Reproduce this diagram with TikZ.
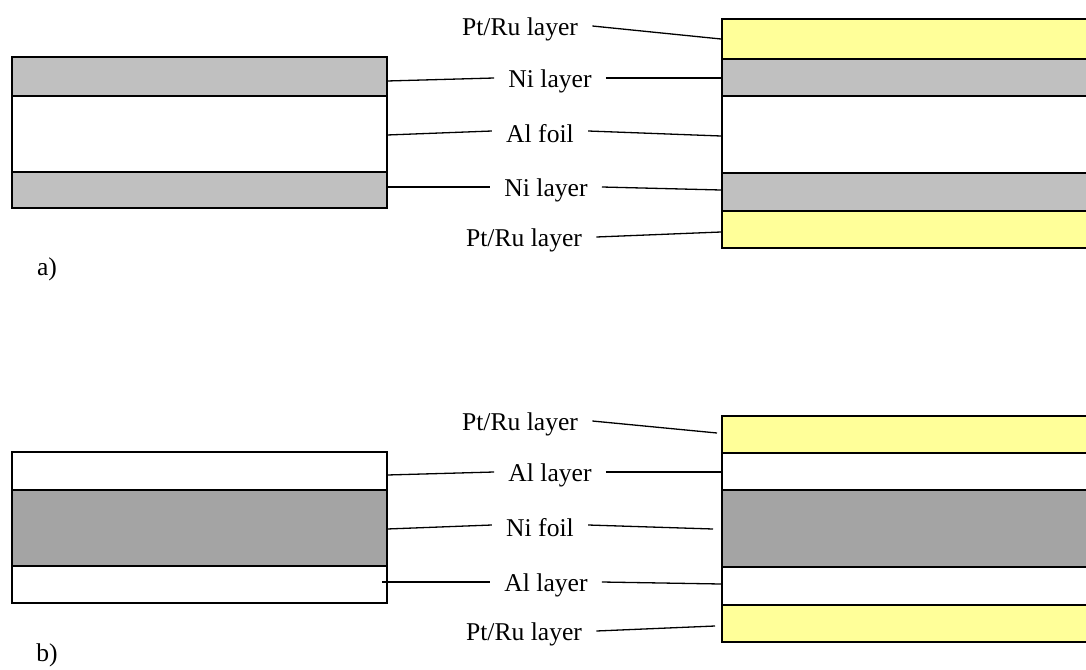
\documentclass[tikz,border=0pt]{standalone}
\usepackage{fontspec}
\setmainfont{Liberation Serif}
\definecolor{nigray}{HTML}{C0C0C0}
\definecolor{foilgray}{HTML}{A4A4A4}
\definecolor{ptyellow}{HTML}{FFFF99}
\tikzset{
  layerbox/.style={draw=black, line width=0.8pt},
  lbl/.style={font=\fontsize{12.8}{15}\selectfont, inner xsep=7pt, inner ysep=0pt},
  lead/.style={draw=black, line width=0.65pt},
  % lead lines leave a label a little above its box centre
  up/.style={yshift=1.5pt},
}
\begin{document}
\begin{tikzpicture}[x=0.5pt,y=-0.5pt]
\useasboundingbox (0,0) rectangle (1086,669);
\clip (0,0) rectangle (1086,669);

% ---------- a) Al foil core with Ni layers ----------
\draw[layerbox, fill=nigray]  (12,57)  rectangle (387,96);
\draw[layerbox, fill=white]   (12,96)  rectangle (387,172);
\draw[layerbox, fill=nigray]  (12,172) rectangle (387,208);

\draw[layerbox, fill=ptyellow] (722,19)  rectangle (1100,59);
\draw[layerbox, fill=nigray]   (722,59)  rectangle (1100,96);
\draw[layerbox, fill=white]    (722,96)  rectangle (1100,173);
\draw[layerbox, fill=nigray]   (722,173) rectangle (1100,211);
\draw[layerbox, fill=ptyellow] (722,211) rectangle (1100,248);

\node[lbl] (apt1) at (520,29)  {Pt/Ru layer};
\node[lbl] (ani1) at (550,81)  {Ni layer};
\node[lbl] (aal)  at (540,134) {Al foil};
\node[lbl] (ani2) at (546,190) {Ni layer};
\node[lbl] (apt2) at (524,240) {Pt/Ru layer};
\node[lbl, anchor=center] (alab) at (47,269) {a)};

\coordinate (aL1) at (387,81);
\coordinate (aL2) at (387,135);
\coordinate (aL3) at (387,187);
\coordinate (aR0) at (721,39);
\coordinate (aR1) at (721,78);
\coordinate (aR2) at (721,136);
\coordinate (aR3) at (721,190);
\coordinate (aR4) at (721,232);

\draw[lead] ([up]apt1.east) -- (aR0);
\draw[lead] (aL1) -- ([up]ani1.west);
\draw[lead] ([up]ani1.east) -- (aR1);
\draw[lead] (aL2) -- ([up]aal.west);
\draw[lead] ([up]aal.east) -- (aR2);
\draw[lead] (aL3) -- ([up]ani2.west);
\draw[lead] ([up]ani2.east) -- (aR3);
\draw[lead] ([up]apt2.east) -- (aR4);

% ---------- b) Ni foil core with Al layers ----------
\draw[layerbox, fill=white]    (12,452) rectangle (387,490);
\draw[layerbox, fill=foilgray] (12,490) rectangle (387,566);
\draw[layerbox, fill=white]    (12,566) rectangle (387,603);

\draw[layerbox, fill=ptyellow] (722,416) rectangle (1100,453);
\draw[layerbox, fill=white]    (722,453) rectangle (1100,490);
\draw[layerbox, fill=foilgray] (722,490) rectangle (1100,567);
\draw[layerbox, fill=white]    (722,567) rectangle (1100,605);
\draw[layerbox, fill=ptyellow] (722,605) rectangle (1100,642);

\node[lbl] (bpt1) at (520,424) {Pt/Ru layer};
\node[lbl] (bal1) at (550,475) {Al layer};
\node[lbl] (bni)  at (540,528) {Ni foil};
\node[lbl] (bal2) at (546,585) {Al layer};
\node[lbl] (bpt2) at (524,634) {Pt/Ru layer};
\node[lbl, anchor=center] (blab) at (47,655) {b)};

\coordinate (bL1) at (387,475);
\coordinate (bL2) at (387,529);
\coordinate (bL3) at (382,582);
\coordinate (bR0) at (717,433);
\coordinate (bR1) at (723,472);
\coordinate (bR2) at (713,529);
\coordinate (bR3) at (721,584);
\coordinate (bR4) at (715,626);

\draw[lead] ([up]bpt1.east) -- (bR0);
\draw[lead] (bL1) -- ([up]bal1.west);
\draw[lead] ([up]bal1.east) -- (bR1);
\draw[lead] (bL2) -- ([up]bni.west);
\draw[lead] ([up]bni.east) -- (bR2);
\draw[lead] (bL3) -- ([up]bal2.west);
\draw[lead] ([up]bal2.east) -- (bR3);
\draw[lead] ([up]bpt2.east) -- (bR4);
\end{tikzpicture}
\end{document}
